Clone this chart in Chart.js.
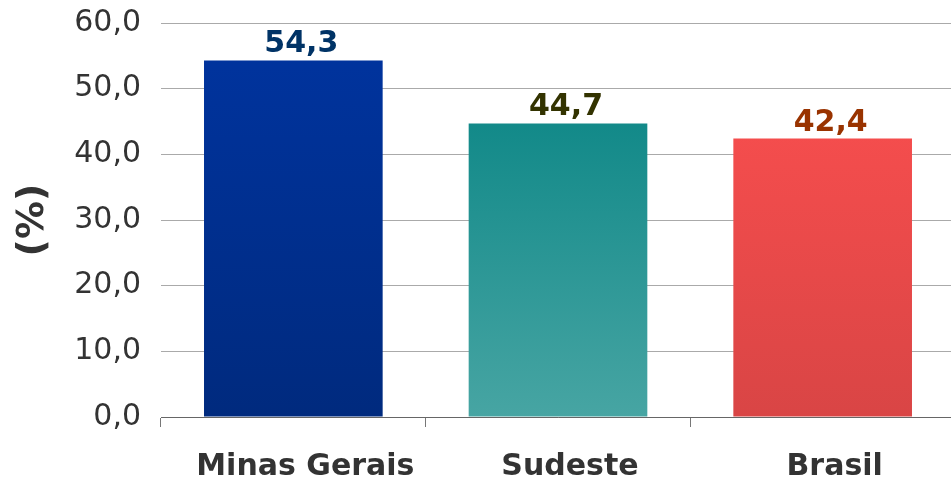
<!DOCTYPE html>
<html>
<head>
<meta charset="utf-8">
<script src="https://cdn.jsdelivr.net/npm/chart.js@4/dist/chart.umd.min.js"></script>
<style>
    html, body { margin: 0; padding: 0; background: #fff; overflow: hidden; }
    #wrap { width: 955px; height: 482px; }
</style>
</head>
<body>
<div id="wrap"><canvas id="chart" width="955" height="482"></canvas></div>
<script>
const categories = ["Minas Gerais", "Sudeste", "Brasil"];
const values = [54.3, 44.7, 42.4];
const yTicks = [0, 10, 20, 30, 40, 50, 60];

// top / bottom colors of each bar gradient
const barTop = ["#0034a0", "#008080", "#ff5050"];
const barBottom = ["#002a7e", "#47a5a3", "#d94545"];
const labelColors = ["#003366", "#333300", "#993300"];

const FONT = "'DejaVu Sans', Verdana, sans-serif";

function fmt(v) {
    return v.toFixed(1).replace(".", ",");
}

function barGradient(ctx) {
    const area = ctx.chart.chartArea;
    if (!area) return barTop[ctx.dataIndex];
    const g = ctx.chart.ctx.createLinearGradient(0, area.top, 0, area.bottom);
    g.addColorStop(0, barTop[ctx.dataIndex]);
    g.addColorStop(1, barBottom[ctx.dataIndex]);
    return g;
}

// value labels above the bars (slightly right of center, like the original)
const valueLabels = {
    id: "valueLabels",
    afterDatasetsDraw(chart) {
        const c = chart.ctx;
        const meta = chart.getDatasetMeta(0);
        c.save();
        c.font = "bold 30px " + FONT;
        c.textAlign = "center";
        c.textBaseline = "alphabetic";
        meta.data.forEach((bar, i) => {
            c.fillStyle = labelColors[i];
            c.fillText(fmt(values[i]), bar.x + 8, bar.y - 8);
        });
        c.restore();
    }
};

new Chart(document.getElementById("chart"), {
    type: "bar",
    data: {
        labels: categories,
        datasets: [{
            data: values,
            backgroundColor: barGradient,
            borderWidth: 0,
            barPercentage: 0.675,
            categoryPercentage: 1
        }]
    },
    options: {
        responsive: false,
        animation: false,
        layout: { padding: { top: 23, right: 0, left: 0, bottom: 0 } },
        plugins: {
            legend: { display: false },
            tooltip: { enabled: false }
        },
        scales: {
            x: {
                grid: {
                    offset: true,
                    drawOnChartArea: false,
                    drawTicks: true,
                    tickLength: 10,
                    color: "#777"
                },
                border: { display: true, color: "#666", width: 1 },
                ticks: {
                    color: "#333",
                    padding: 22,
                    labelOffset: 12,
                    font: { family: FONT, size: 30, weight: "bold" }
                },
                afterFit: s => {
                    s.height = 65;
                    s.paddingLeft = 0;
                    s.paddingRight = 0;
                }
            },
            y: {
                min: 0,
                max: 60,
                afterBuildTicks: s => { s.ticks = yTicks.map(v => ({ value: v })); },
                grid: { color: "#aaa", drawTicks: false, lineWidth: 1 },
                border: { display: false },
                ticks: {
                    color: "#333",
                    padding: 20,
                    font: { family: FONT, size: 30 },
                    callback: v => fmt(v)
                },
                title: {
                    display: true,
                    text: "(%)",
                    color: "#333",
                    padding: { top: 10, bottom: 0 },
                    font: { family: FONT, size: 38, weight: "bold" }
                },
                afterFit: s => {
                    s.width = 161;
                    s.paddingTop = 0;
                    s.paddingBottom = 0;
                }
            }
        }
    },
    plugins: [valueLabels]
});
</script>
</body>
</html>
